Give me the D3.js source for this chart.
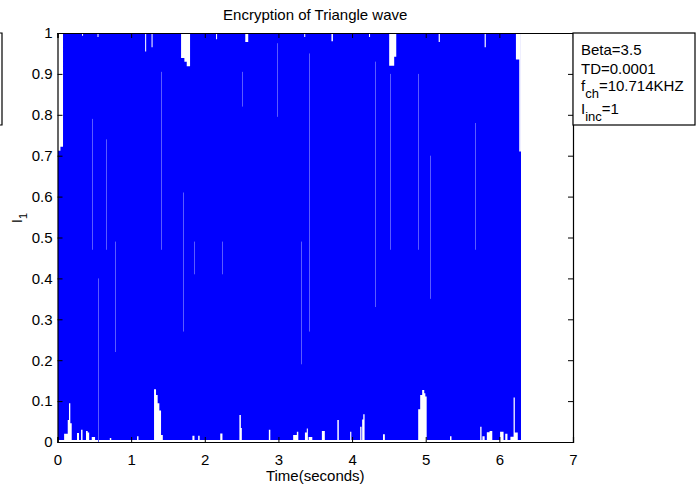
<!DOCTYPE html>
<html>
<head>
<meta charset="utf-8">
<script src="https://cdn.jsdelivr.net/npm/d3@7"></script>
<style>
  body { margin: 0; background: #fff; }
  text { font-family: "Liberation Sans", Arial, sans-serif; fill: #000; }
</style>
</head>
<body>
<div id="chart"></div>
<script>
// Chart values
const xTicks = [0, 1, 2, 3, 4, 5, 6, 7];
const yTicks = [0, 0.1, 0.2, 0.3, 0.4, 0.5, 0.6, 0.7, 0.8, 0.9, 1];
const yTickLabels = ["0", "0.1", "0.2", "0.3", "0.4", "0.5", "0.6", "0.7", "0.8", "0.9", "1"];

// the encrypted signal fills its range densely, so it is kept as an envelope
const sigStart = 0;
const sigEnd = 6.293;
const sigLow = 0.004;
const sigHigh = 1;

// white gaps hanging from the top: [t0, t1, lowest value reached]
const topCuts = [
  [0, 0.04, 0.712], [0.04, 0.075, 0.722],
  [0.333, 0.347, 0.993], [0.543, 0.557, 0.99],
  [1.19, 1.204, 0.955], [1.277, 1.291, 0.965],
  [1.678, 1.723, 0.939], [1.723, 1.755, 0.93], [1.755, 1.80, 0.919],
  [2.153, 2.167, 0.985], [2.55, 2.59, 0.978],
  [3.35, 3.364, 0.99], [3.72, 3.74, 0.98], [4.23, 4.244, 0.99],
  [4.504, 4.572, 0.92], [4.572, 4.60, 0.942],
  [5.176, 5.192, 0.978], [5.80, 5.816, 0.965],
  [6.225, 6.27, 0.935], [6.27, 6.293, 0.71]
];

// white spikes rising from the bottom: [t0, t1, highest value reached]
const bottomCuts = [
  [0.09, 0.139, 0.02], [0.139, 0.156, 0.054], [0.156, 0.174, 0.095], [0.174, 0.193, 0.046],
  [0.265, 0.292, 0.022], [0.32, 0.34, 0.03], [0.387, 0.41, 0.027], [0.41, 0.43, 0.023],
  [0.465, 0.51, 0.012], [0.71, 0.73, 0.01], [1.08, 1.10, 0.014],
  [1.311, 1.338, 0.129], [1.338, 1.36, 0.115], [1.36, 1.383, 0.095], [1.383, 1.406, 0.077], [1.406, 1.43, 0.017],
  [1.832, 1.86, 0.015], [1.91, 1.93, 0.015], [2.21, 2.24, 0.021],
  [2.47, 2.49, 0.066], [2.49, 2.503, 0.034], [2.87, 2.89, 0.03],
  [3.20, 3.25, 0.017], [3.25, 3.27, 0.025], [3.36, 3.385, 0.023], [3.385, 3.40, 0.033], [3.41, 3.46, 0.012],
  [3.59, 3.63, 0.027], [3.80, 3.82, 0.054], [3.974, 3.99, 0.025],
  [4.11, 4.128, 0.037], [4.137, 4.152, 0.055], [4.152, 4.17, 0.068], [4.42, 4.445, 0.019],
  [4.898, 4.925, 0.08], [4.925, 4.952, 0.115], [4.952, 4.98, 0.127], [4.98, 4.995, 0.119], [4.995, 5.013, 0.111],
  [5.33, 5.35, 0.014], [5.74, 5.758, 0.037], [5.77, 5.80, 0.014],
  [5.83, 5.867, 0.024], [5.867, 5.904, 0.027], [6.01, 6.057, 0.025], [6.08, 6.11, 0.02],
  [6.15, 6.193, 0.013], [6.193, 6.21, 0.109], [6.21, 6.25, 0.023]
];

// faint lighter streaks inside the blue: [t, v0, v1]
const streaks = [
  [0.47, 0.47, 0.79], [0.55, 0.0, 0.40], [0.66, 0.47, 0.74], [0.78, 0.22, 0.49],
  [1.41, 0.47, 0.905], [1.70, 0.27, 0.61], [1.855, 0.41, 0.49], [2.23, 0.41, 0.49],
  [2.50, 0.82, 0.905], [2.98, 0.795, 0.975], [3.30, 0.19, 0.49], [3.42, 0.27, 0.95],
  [4.31, 0.33, 0.93], [4.52, 0.47, 0.9], [4.90, 0.47, 0.9], [5.06, 0.35, 0.7], [5.67, 0.47, 0.78]
];

const legendLines = [
  { main: "Beta=3.5", sub: "", rest: "" },
  { main: "TD=0.0001", sub: "", rest: "" },
  { main: "f", sub: "ch", rest: "=10.714KHZ" },
  { main: "I", sub: "inc", rest: "=1" }
];

// The svg
const width = 700, height = 489;
const margin = { top: 33, right: 127, bottom: 47, left: 57.5 };
const plotW = width - margin.left - margin.right;
const plotH = height - margin.top - margin.bottom;

const svg = d3.select("#chart")
    .append("svg")
    .attr("width", width)
    .attr("height", height);

const x = d3.scaleLinear().domain([0, 7]).range([margin.left, margin.left + plotW]);
const y = d3.scaleLinear().domain([0, 1]).range([margin.top + plotH, margin.top]);

// turn a list of cuts into step points, dropping back to the edge between cuts
function stepPoints(cuts, edge) {
    const pts = [];
    cuts.forEach(function (c, i) {
        pts.push({ t: c[0], v: c[2] });
        const next = cuts[i + 1];
        if (!next || next[0] > c[1]) pts.push({ t: c[1], v: edge });
    });
    return pts;
}

const plot = svg.append("g");

// signal body
plot.append("rect")
    .attr("x", x(sigStart))
    .attr("y", y(sigHigh))
    .attr("width", x(sigEnd) - x(sigStart))
    .attr("height", y(sigLow) - y(sigHigh))
    .attr("fill", "#0000ff")
    .attr("shape-rendering", "crispEdges");

plot.append("g")
    .selectAll("line")
    .data(streaks)
    .enter()
    .append("line")
    .attr("x1", d => Math.round(x(d[0])) + 0.5)
    .attr("x2", d => Math.round(x(d[0])) + 0.5)
    .attr("y1", d => y(d[1]))
    .attr("y2", d => y(d[2]))
    .attr("stroke", "#5a5aff")
    .attr("stroke-width", 1);

const topArea = d3.area()
    .curve(d3.curveStepAfter)
    .x(d => x(d.t))
    .y0(y(1))
    .y1(d => y(d.v));

const bottomArea = d3.area()
    .curve(d3.curveStepAfter)
    .x(d => x(d.t))
    .y0(y(0))
    .y1(d => y(d.v));

plot.append("path")
    .datum(stepPoints(topCuts, 1))
    .attr("d", topArea)
    .attr("fill", "#fff");

plot.append("path")
    .datum(stepPoints(bottomCuts, 0))
    .attr("d", bottomArea)
    .attr("fill", "#fff");

// axes box with inward ticks on all four sides
const tickLen = 5;
const axisColor = "#000";

svg.append("g")
    .attr("transform", `translate(0,${y(0)})`)
    .call(d3.axisBottom(x).tickValues(xTicks).tickSize(-tickLen).tickFormat(d3.format("d")))
    .call(g => g.selectAll("text").attr("y", 12).attr("font-size", 15))
    .call(g => g.select(".domain").attr("stroke", axisColor));

svg.append("g")
    .attr("transform", `translate(0,${y(1)})`)
    .call(d3.axisTop(x).tickValues(xTicks).tickSize(-tickLen).tickFormat(""))
    .call(g => g.select(".domain").attr("stroke", axisColor));

svg.append("g")
    .attr("transform", `translate(${x(0)},0)`)
    .call(d3.axisLeft(y).tickValues(yTicks).tickSize(-tickLen).tickFormat((d, i) => yTickLabels[i]))
    .call(g => g.selectAll("text").attr("x", -5).attr("font-size", 15))
    .call(g => g.select(".domain").attr("stroke", axisColor));

svg.append("g")
    .attr("transform", `translate(${x(7)},0)`)
    .call(d3.axisRight(y).tickValues(yTicks).tickSize(-tickLen).tickFormat(""))
    .call(g => g.select(".domain").attr("stroke", axisColor));

svg.selectAll(".domain").attr("stroke-width", 1.2);
svg.selectAll(".tick line").attr("stroke", axisColor);
svg.selectAll(".tick text").attr("font-family", "Liberation Sans, Arial, sans-serif").attr("fill", "#000");

// title and axis labels
svg.append("text")
    .attr("x", (x(0) + x(7)) / 2)
    .attr("y", 20)
    .attr("text-anchor", "middle")
    .attr("font-size", 15)
    .text("Encryption of Triangle wave");

svg.append("text")
    .attr("x", (x(0) + x(7)) / 2)
    .attr("y", 481)
    .attr("text-anchor", "middle")
    .attr("font-size", 15)
    .text("Time(seconds)");

const ylab = svg.append("text")
    .attr("transform", "translate(22,218) rotate(-90)")
    .attr("text-anchor", "middle")
    .attr("font-size", 15);
ylab.append("tspan").text("I");
ylab.append("tspan").attr("font-size", 11).attr("dy", 5).text("1");

// legend box at the right
const legend = svg.append("g");
legend.append("rect")
    .attr("x", x(7))
    .attr("y", y(1))
    .attr("width", 695 - x(7))
    .attr("height", 92)
    .attr("fill", "#fff")
    .attr("stroke", "#000")
    .attr("stroke-width", 1.2);

const legendBase = [55, 74, 91, 114];
legendLines.forEach(function (l, i) {
    const t = legend.append("text")
        .attr("x", 581)
        .attr("y", legendBase[i])
        .attr("font-size", 15);
    t.append("tspan").text(l.main);
    if (l.sub) {
        t.append("tspan").attr("font-size", 13).attr("dy", 7).text(l.sub);
        t.append("tspan").attr("dy", -7).text(l.rest);
    }
});

// edge of a box cut off at the left border
svg.append("path")
    .attr("d", `M0,${y(1)} H2 V125 H0`)
    .attr("fill", "none")
    .attr("stroke", "#000")
    .attr("stroke-width", 1.2);
</script>
</body>
</html>
